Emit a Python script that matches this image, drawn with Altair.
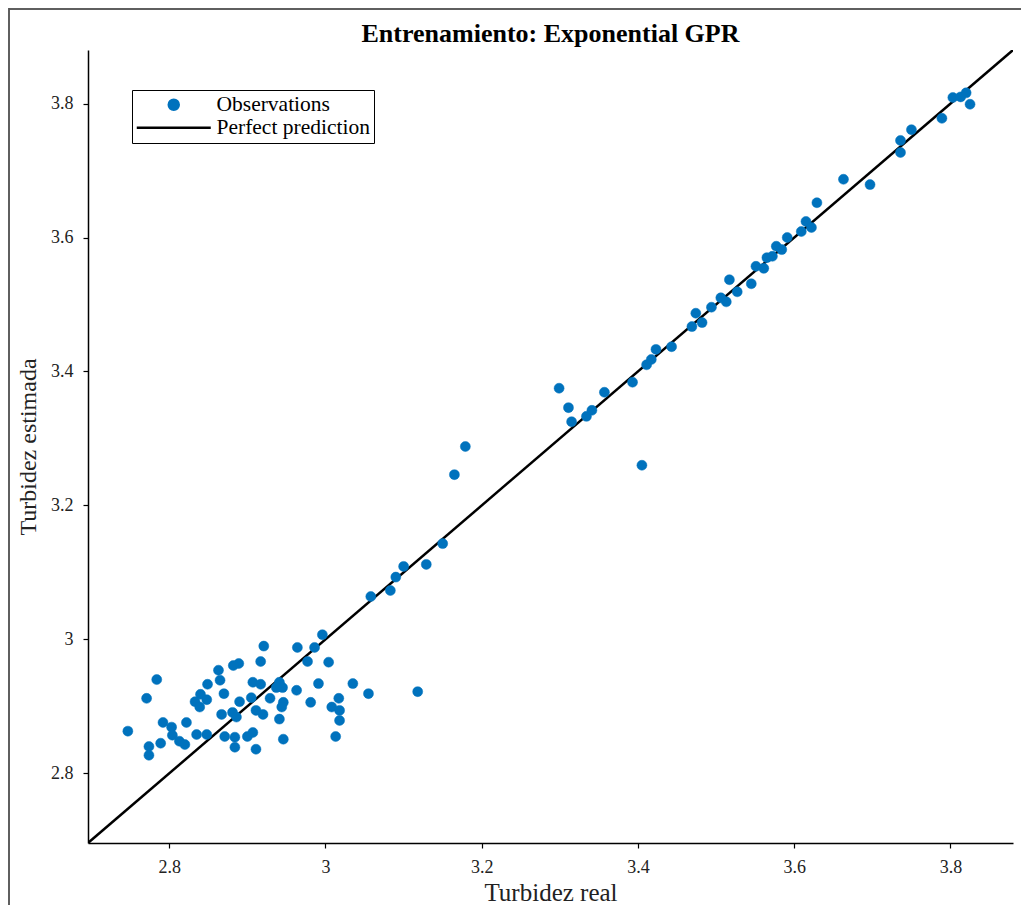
import altair as alt
import pandas as pd

# Turbidez real (x) and Turbidez estimada (y) for the observations
x_real = [
    2.996, 2.921, 2.964, 2.986, 2.917, 2.977, 3.004, 2.889, 2.882, 2.863,
    2.784, 2.865, 2.849, 2.907, 2.917, 2.941, 2.945, 2.937, 2.963, 2.991,
    3.035, 3.055, 3.118, 2.771, 2.840, 2.870, 2.833, 2.848, 2.890, 2.905,
    2.929, 2.946, 2.944, 2.981, 3.017, 3.008, 3.018, 2.839, 2.867, 2.881,
    2.911, 2.920, 2.886, 2.941, 3.018, 2.747, 2.792, 2.803, 2.822, 2.804,
    2.835, 2.848, 2.871, 2.884, 2.900, 2.907, 2.946, 3.013, 2.813, 2.820,
    2.789, 2.774, 2.774, 2.884, 2.911,
    3.058, 3.083, 3.090, 3.100, 3.129, 3.150, 3.165, 3.179, 3.405, 3.299,
    3.311, 3.315, 3.334, 3.341, 3.357, 3.393, 3.411, 3.417, 3.423, 3.443,
    3.469, 3.474, 3.482, 3.494, 3.506, 3.513, 3.517, 3.527, 3.545, 3.551,
    3.561, 3.565, 3.572, 3.577, 3.584, 3.591, 3.609, 3.615, 3.622, 3.629,
    3.663, 3.697, 3.736, 3.750, 3.736, 3.789, 3.803, 3.813, 3.820, 3.825,
]
y_est = [
    3.007, 2.990, 2.988, 2.988, 2.967, 2.967, 2.966, 2.964, 2.961, 2.954,
    2.940, 2.939, 2.933, 2.936, 2.933, 2.936, 2.928, 2.928, 2.924, 2.934,
    2.934, 2.919, 2.922, 2.912, 2.918, 2.919, 2.907, 2.910, 2.907, 2.913,
    2.912, 2.906, 2.899, 2.906, 2.912, 2.899, 2.894, 2.899, 2.888, 2.891,
    2.894, 2.888, 2.884, 2.881, 2.879, 2.863, 2.876, 2.869, 2.876, 2.857,
    2.858, 2.858, 2.855, 2.854, 2.855, 2.861, 2.851, 2.855, 2.848, 2.843,
    2.845, 2.840, 2.827, 2.839, 2.836,
    3.064, 3.073, 3.093, 3.109, 3.112, 3.143, 3.246, 3.288, 3.260, 3.375,
    3.346, 3.325, 3.333, 3.342, 3.369, 3.384, 3.410, 3.418, 3.433, 3.437,
    3.467, 3.487, 3.473, 3.496, 3.510, 3.504, 3.537, 3.519, 3.531, 3.557,
    3.554, 3.570, 3.572, 3.587, 3.582, 3.600, 3.609, 3.624, 3.615, 3.652,
    3.687, 3.679, 3.745, 3.761, 3.727, 3.778, 3.809, 3.810, 3.816, 3.799,
]
line_ends = [2.696, 3.88]
series_names = ["Observations", "Perfect prediction"]
tick_values = [2.8, 3.0, 3.2, 3.4, 3.6, 3.8]

obs = pd.DataFrame({"real": x_real, "est": y_est, "series": series_names[0]})
ref = pd.DataFrame({"real": line_ends, "est": line_ends, "series": series_names[1]})

FONT = "Liberation Serif"
BLUE = "#0072BD"
W, H = 925, 793
PT_SIZE = 100

xs = alt.Scale(domain=line_ends, nice=False, zero=False)
ys = alt.Scale(domain=line_ends, nice=False, zero=False)

leg = alt.Legend(
    title=None, orient="none", legendX=44, legendY=40,
    strokeColor="black", fillColor="white", padding=4,
    labelFont=FONT, labelFontSize=21.5, labelColor="black",
    symbolStrokeWidth=2.5, symbolSize=PT_SIZE, symbolOffset=27,
    rowPadding=0, labelOffset=32,
)

x_enc = alt.X("real:Q", scale=xs, axis=alt.Axis(
    title="Turbidez real", values=tick_values, format=".1~f",
    titlePadding=4, titleFontSize=25))
y_enc = alt.Y("est:Q", scale=ys, axis=alt.Axis(
    title="Turbidez estimada", values=tick_values, format=".1~f",
    titlePadding=10))

color_enc = alt.Color("series:N", scale=alt.Scale(domain=series_names, range=[BLUE, "black"]), legend=leg)
stroke_enc = alt.Stroke("series:N", scale=alt.Scale(domain=series_names, range=[BLUE, "black"]), legend=leg)
shape_enc = alt.Shape("series:N", scale=alt.Scale(domain=series_names, range=["circle", "M-7.4,0L7.4,0"]), legend=leg)

points = alt.Chart(obs).mark_point(filled=True, opacity=1, strokeWidth=0.5, size=PT_SIZE).encode(
    x=x_enc, y=y_enc, color=color_enc, stroke=stroke_enc, shape=shape_enc
)

line = alt.Chart(ref).mark_line(strokeWidth=2.5, clip=True).encode(
    x=x_enc, y=y_enc, color=color_enc
)

frame_left = alt.Chart(ref).mark_rule(color="#555555", strokeWidth=1.5).encode(
    x=alt.value(-79), y=alt.value(-42), y2=alt.value(H + 62)
)
frame_top = alt.Chart(ref).mark_rule(color="#555555", strokeWidth=1.5).encode(
    x=alt.value(-79), x2=alt.value(W + 8), y=alt.value(-41)
)

chart = alt.layer(line, points, frame_left, frame_top).properties(
    width=W, height=H,
    title=alt.TitleParams("Entrenamiento: Exponential GPR", font=FONT, fontSize=26,
                          fontWeight="bold", color="black", offset=6, frame="group",
                          anchor="middle", baseline="bottom", dy=72),
    autosize=alt.AutoSizeParams(type="none"),
    padding={"left": 80, "top": 42, "right": 8, "bottom": 62},
).configure_view(stroke=None).configure_axis(
    grid=False, domainColor="black", domainWidth=1.5, tickColor="black", tickWidth=1.2,
    tickSize=5, labelPadding=10, labelFont=FONT, labelFontSize=18, labelColor="#222222",
    titleFont=FONT, titleFontSize=24, titleFontWeight="normal", titleColor="#222222",
)

chart.save("out.html", embed_options={"renderer": "svg", "actions": False})
